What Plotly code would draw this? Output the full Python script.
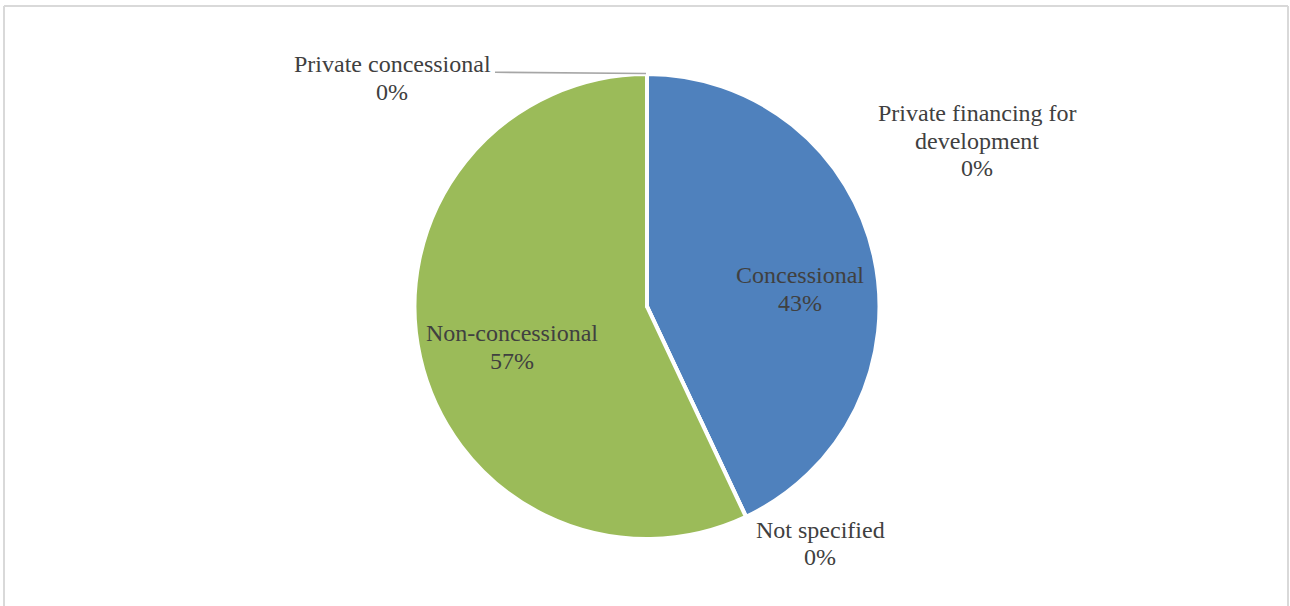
import plotly.graph_objects as go

# Financing categories, in slice order (clockwise from 12 o'clock)
categories = [
    "Private financing for development",
    "Concessional",
    "Not specified",
    "Non-concessional",
    "Private concessional",
]
shares = [0, 43, 0, 57, 0]
slice_colors = ["#C0504D", "#4F81BD", "#8064A2", "#9BBB59", "#4BACC6"]

# Text lines shown for each category label
label_lines = {
    "Private financing for development": ["Private financing for", "development"],
    "Concessional": ["Concessional"],
    "Not specified": ["Not specified"],
    "Non-concessional": ["Non-concessional"],
    "Private concessional": ["Private concessional"],
}

W, H = 1290, 606
ML, MR, MT, MB = 100, 96, 74, 67
PW, PH = W - ML - MR, H - MT - MB


def px(x):
    return (x - ML) / PW


def py(y):
    return 1 - (y - MT) / PH


fig = go.Figure(
    go.Pie(
        labels=categories,
        values=shares,
        sort=False,
        direction="clockwise",
        rotation=0,
        textinfo="none",
        hoverinfo="label+percent",
        marker=dict(colors=slice_colors, line=dict(color="white", width=4)),
        showlegend=False,
    )
)

# Label anchor points (centre x, first-line y) and line spacing
label_pos = {
    "Private financing for development": (977, 113),
    "Concessional": (800, 275),
    "Not specified": (820, 529.5),
    "Non-concessional": (512, 333),
    "Private concessional": (392, 64.5),
}
LINE_STEP = 27.5
total = sum(shares)
font = dict(family="Liberation Serif, Times New Roman, serif", size=24, color="#404040")

annotations = []
for cat, val in zip(categories, shares):
    cx, cy = label_pos[cat]
    lines = label_lines[cat] + [f"{round(val / total * 100)}%"]
    for i, line in enumerate(lines):
        annotations.append(
            dict(
                x=px(cx), y=py(cy + i * LINE_STEP), xref="paper", yref="paper",
                text=line, showarrow=False, xanchor="center", yanchor="middle",
                font=font,
            )
        )

shapes = [
    # leader line to the top edge of the pie
    dict(type="line", xref="paper", yref="paper",
         x0=px(495), y0=py(72.3), x1=px(646), y1=py(73.5),
         line=dict(color="#A6A6A6", width=1.6)),
    # chart frame
    dict(type="line", xref="paper", yref="paper",
         x0=px(4), y0=py(6), x1=px(1288), y1=py(6),
         line=dict(color="#D9D9D9", width=2)),
    dict(type="line", xref="paper", yref="paper",
         x0=px(4), y0=py(6), x1=px(4), y1=py(620),
         line=dict(color="#D9D9D9", width=2)),
    dict(type="line", xref="paper", yref="paper",
         x0=px(1288), y0=py(6), x1=px(1288), y1=py(620),
         line=dict(color="#D9D9D9", width=2)),
]

fig.update_layout(
    width=W, height=H,
    margin=dict(l=ML, r=MR, t=MT, b=MB),
    paper_bgcolor="white", plot_bgcolor="white",
    annotations=annotations, shapes=shapes,
)

fig.write_html("out.html")
